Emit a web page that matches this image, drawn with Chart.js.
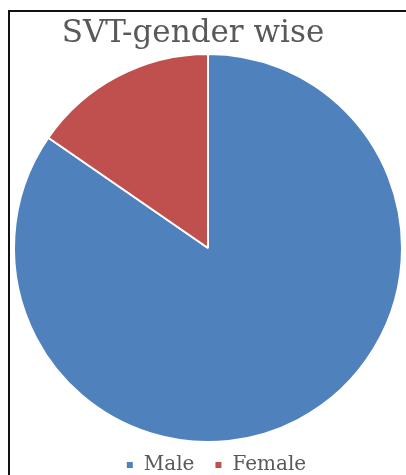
<!DOCTYPE html>
<html>
<head>
<meta charset="utf-8">
<script src="https://cdn.jsdelivr.net/npm/chart.js@4"></script>
<style>
  html, body { margin: 0; padding: 0; background: #fff; overflow: hidden; }
  #frame { position: absolute; left: 8px; top: 10px; width: 396px; height: 473px;
           border-left: 2px solid #111; border-top: 2px solid #111; }
  #c { display: block; }
</style>
</head>
<body>
<div id="frame"><canvas id="c" width="396" height="473"></canvas></div>
<script>
const categories = ["Male", "Female"];
const values = [11, 2];
const colors = ["#4F81BD", "#C0504D"];
const titleText = "SVT-gender wise";

const titleDrawer = {
  id: "titleDrawer",
  afterDraw(chart) {
    const ctx = chart.ctx;
    ctx.save();
    ctx.font = "31px 'DejaVu Serif'";
    ctx.fillStyle = "#595959";
    ctx.textAlign = "center";
    ctx.textBaseline = "alphabetic";
    ctx.fillText(titleText, 183, 30);
    ctx.restore();
  }
};

const legendShift = {
  id: "legendShift",
  afterLayout(chart) {
    if (chart.legend) {
      chart.legend.left += 8;
      chart.legend.right += 8;
    }
  }
};

new Chart(document.getElementById("c"), {
  type: "pie",
  data: {
    labels: categories,
    datasets: [{
      data: values,
      backgroundColor: colors,
      borderColor: "#ffffff",
      borderWidth: 2
    }]
  },
  options: {
    responsive: false,
    animation: false,
    radius: 194,
    layout: { padding: { top: 49 } },
    plugins: {
      title: { display: false },
      legend: {
        position: "bottom",
        labels: {
          color: "#595959",
          font: { family: "DejaVu Serif", size: 20 },
          boxWidth: 8,
          boxHeight: 8,
          padding: 20
        }
      },
      tooltip: { enabled: false }
    }
  },
  plugins: [titleDrawer, legendShift]
});
</script>
</body>
</html>
